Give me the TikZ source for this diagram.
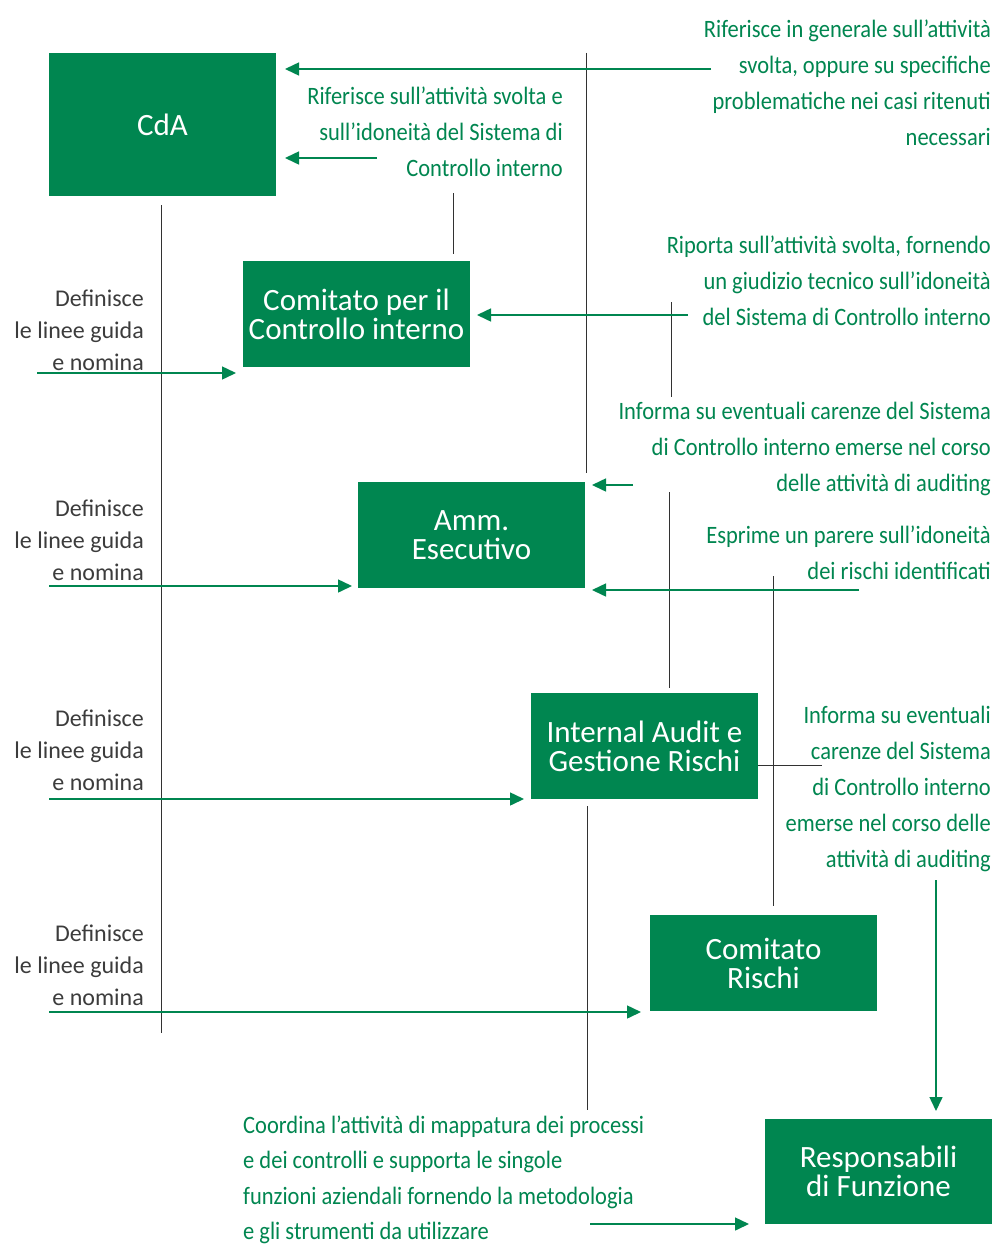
\documentclass[tikz,border=0pt]{standalone}
\usepackage{fontspec}
\setmainfont{Carlito}
\newfontfamily\condfont[FakeStretch=0.9]{Carlito}
\usetikzlibrary{arrows.meta}
\definecolor{gr}{RGB}{0,134,80}
\definecolor{ln}{RGB}{50,50,50}
\definecolor{tx}{RGB}{60,60,60}
\begin{document}
\begin{tikzpicture}[x=1pt,y=-1pt,
  box/.style={fill=gr, text=white, inner sep=0pt, outer sep=0pt, minimum width=227pt, align=center, font=\fontsize{31}{29}\selectfont},
  garrow/.style={draw=gr, line width=1.5pt, -{Triangle[length=14pt,width=13pt]}},
  vline/.style={draw=ln, line width=1pt},
  gtext/.style={text=gr, inner sep=0pt, align=right, anchor=north east, font=\condfont\fontsize{25}{36}\selectfont},
  gtextl/.style={gtext, align=left, anchor=north west, font=\condfont\fontsize{25}{35.5}\selectfont},
  dtext/.style={text=tx, inner sep=0pt, align=right, anchor=north east, font=\fontsize{24}{32}\selectfont}
]
\useasboundingbox[fill=white] (0,0) rectangle (995,1247);

% boxes
\node[box, minimum height=143pt] (cda) at (162.5,124.5) {CdA};
\node[box, minimum height=106pt] (ccc) at (356.5,314) {Comitato per il\\Controllo interno};
\node[box, minimum height=106pt] (amm) at (471.5,535) {Amm.\\Esecutivo};
\node[box, minimum height=106pt] (ia) at (644.5,746) {Internal Audit e\\Gestione Rischi};
\node[box, minimum height=96pt] (cr) at (763.5,963) {Comitato\\Rischi};
\node[box, minimum height=105pt] (resp) at (878.5,1171.5) {Responsabili\\di Funzione};

% green texts
\node[gtext] (t1) at (991,11.8) {\strut Riferisce in generale sull’attività\\svolta, oppure su specifiche\\problematiche nei casi ritenuti\\necessari};
\node[gtext] (t2) at (563,78.8) {\strut Riferisce sull’attività svolta e\\sull’idoneità del Sistema di\\Controllo interno};
\node[gtext] (t3) at (991,227.8) {\strut Riporta sull’attività svolta, fornendo\\un giudizio tecnico sull’idoneità\\del Sistema di Controllo interno};
\node[gtext] (t4) at (991,393.8) {\strut Informa su eventuali carenze del Sistema\\di Controllo interno emerse nel corso\\delle attività di auditing};
\node[gtext] (t5) at (991,517.8) {\strut Esprime un parere sull’idoneità\\dei rischi identificati};
\node[gtext] (t6) at (991,697.8) {\strut Informa su eventuali\\carenze del Sistema\\di Controllo interno\\emerse nel corso delle\\attività di auditing};
\node[gtextl] (t7) at (243,1108) {\strut Coordina l’attività di mappatura dei processi\\e dei controlli e supporta le singole\\funzioni aziendali fornendo la metodologia\\e gli strumenti da utilizzare};

% Definisce texts
\node[dtext] (d1) at (144,283.6) {\strut Definisce\\le linee guida\\e nomina};
\node[dtext] (d2) at (144,493.6) {\strut Definisce\\le linee guida\\e nomina};
\node[dtext] (d3) at (144,703.6) {\strut Definisce\\le linee guida\\e nomina};
\node[dtext] (d4) at (144,918.6) {\strut Definisce\\le linee guida\\e nomina};

% gray lines
\coordinate (l1a) at (161,205); \coordinate (l1b) at (161,1033);
\coordinate (l2a) at (586,53);  \coordinate (l2b) at (586,473);
\coordinate (l3a) at (453,193); \coordinate (l3b) at (453,254);
\coordinate (l4a) at (671,302); \coordinate (l4b) at (671,397);
\coordinate (l5a) at (669,492); \coordinate (l5b) at (669,688);
\coordinate (l6a) at (773,576); \coordinate (l6b) at (773,906);
\coordinate (l7)  at (822,765);
\coordinate (l8a) at (587,806); \coordinate (l8b) at (587,1110);
\draw[vline] (l1a) -- (l1b);
\draw[vline] (l2a) -- (l2b);
\draw[vline] (l3a) -- (l3b);
\draw[vline] (l4a) -- (l4b);
\draw[vline] (l5a) -- (l5b);
\draw[vline] (l6a) -- (l6b);
\draw[vline] (ia.east |- l7) -- (l7);
\draw[vline] (l8a) -- (l8b);

% green arrows
\coordinate (a1) at (711,69);
\coordinate (a2) at (377,158);
\coordinate (a3) at (688,315);
\coordinate (a4) at (37,373);
\coordinate (a5) at (633,485);
\coordinate (a6) at (859,590);
\coordinate (a7) at (49,586);
\coordinate (a8) at (49,799);
\coordinate (a9) at (49,1012);
\coordinate (a10) at (936,880);
\coordinate (a11) at (590,1224);
\draw[garrow, shorten >=9pt] (a1) -- (cda.east |- a1);
\draw[garrow, shorten >=9pt] (a2) -- (cda.east |- a2);
\draw[garrow, shorten >=7pt] (a3) -- (ccc.east |- a3);
\draw[garrow, shorten >=7pt] (a4) -- (ccc.west |- a4);
\draw[garrow, shorten >=7pt] (a5) -- (amm.east |- a5);
\draw[garrow, shorten >=7pt] (a6) -- (amm.east |- a6);
\draw[garrow, shorten >=6pt] (a7) -- (amm.west |- a7);
\draw[garrow, shorten >=7pt] (a8) -- (ia.west |- a8);
\draw[garrow, shorten >=9pt] (a9) -- (cr.west |- a9);
\draw[garrow, shorten >=8pt] (a10) -- (a10 |- resp.north);
\draw[garrow, shorten >=16pt] (a11) -- (resp.west |- a11);
\end{tikzpicture}
\end{document}
